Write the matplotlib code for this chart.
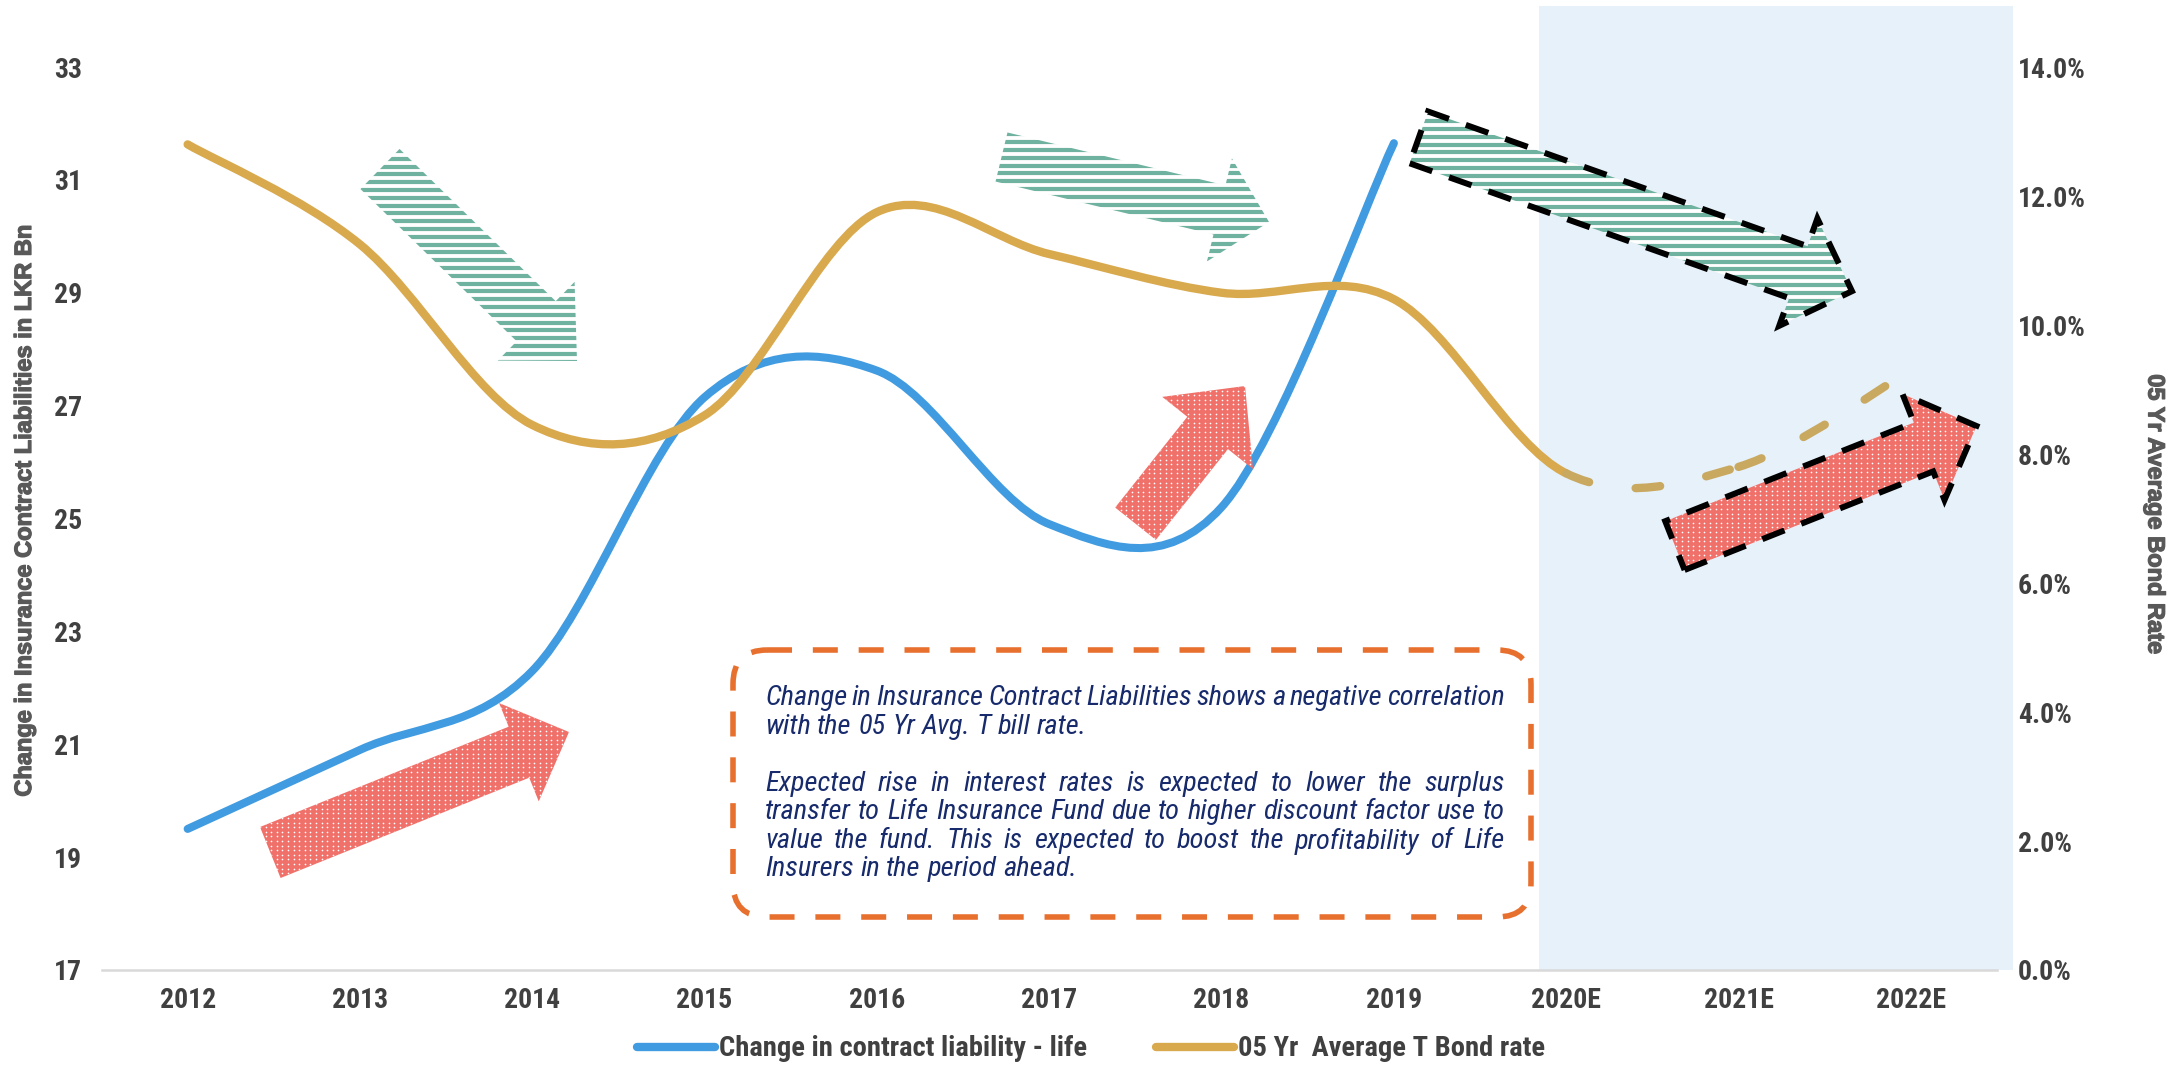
import numpy as np
import matplotlib
matplotlib.use("Agg")
import matplotlib.pyplot as plt
from matplotlib.path import Path
from matplotlib.patches import PathPatch, Polygon, Rectangle, FancyBboxPatch
from matplotlib.collections import LineCollection
from matplotlib.lines import Line2D
from matplotlib.font_manager import FontProperties
from matplotlib import transforms, font_manager, patheffects

# ---------------- data ----------------
years = ["2012", "2013", "2014", "2015", "2016", "2017", "2018", "2019",
         "2020E", "2021E", "2022E"]
contract_liability = [19.5, 20.9, 22.3, 27.15, 27.62, 24.9, 25.2, 31.65]   # LKR Bn, 2012-2019
bond_rate = [12.8, 11.25, 8.45, 8.6, 11.75, 11.1, 10.5, 10.4, 7.7, 7.8, 9.3]  # %, 2012-2022E
n_actual_rate = 9          # rate values up to 2020E drawn solid, later ones dashed
left_ticks = [17, 19, 21, 23, 25, 27, 29, 31, 33]
right_ticks = [0, 2, 4, 6, 8, 10, 12, 14]

left_title = "Change in Insurance Contract Liabilities in LKR Bn"
right_title = "05 Yr Average Bond Rate"
legend_labels = ["Change in contract liability - life", "05 Yr  Average T Bond rate"]
note_lines = [
    ("Change in Insurance Contract Liabilities shows a negative correlation", True),
    ("with the 05 Yr Avg. T bill rate.", False),
    ("Expected rise in interest rates is expected to lower the surplus", True),
    ("transfer to Life Insurance Fund due to higher discount factor use to", True),
    ("value the fund. This is expected to boost the profitability of Life", True),
    ("Insurers in the period ahead.", False),
]

# ---------------- style ----------------
BLUE = "#409BE0"
GOLD = "#D9A94E"
GOLD_DASH = "#C9A860"
SHADE = "#E6F1FA"
GREEN = "#70B2A0"
PINK = "#F0706A"
ORANGE = "#E8702F"
NAVY = "#172A6B"
TICK_C = "#404040"
TITLE_C = "#595959"

# pick a narrow sans face if one is installed
fonts = font_manager.fontManager.ttflist
names = {f.name for f in fonts}
NARROW, STRETCH, FS = "Liberation Sans", "normal", 0.88
for cand in ["Liberation Sans Narrow", "Arial Narrow", "Roboto Condensed",
             "Open Sans Condensed", "Noto Sans Condensed", "DejaVu Sans Condensed"]:
    if cand in names:
        NARROW, STRETCH, FS = cand, "normal", 1.0
        break
else:
    for fam in ["Roboto", "Noto Sans", "Open Sans"]:
        if any(f.name == fam and f.stretch in ("condensed", "semi-condensed") for f in fonts):
            NARROW, STRETCH, FS = fam, "condensed", 1.0
            break


def narrow(size, weight="normal", style="normal"):
    return FontProperties(family=[NARROW, "DejaVu Sans"], stretch=STRETCH,
                          size=size, weight=weight, style=style)


def bold_face_file(name):
    for f in fonts:
        w = f.weight if isinstance(f.weight, int) else (700 if f.weight == "bold" else 400)
        if f.name == name and f.style == "normal" and w >= 700 and f.stretch == "normal":
            return f.fname
    return None


_title_file = bold_face_file("Liberation Sans")
if _title_file:
    title_font = FontProperties(fname=_title_file, size=17)
else:
    title_font = FontProperties(family="DejaVu Sans", weight="bold", size=14.5)
title_fx = [patheffects.withStroke(linewidth=0.9, foreground=TITLE_C)]

W, H = 2179, 1065
fig = plt.figure(figsize=(W / 100, H / 100), dpi=100)
fig.patch.set_facecolor("white")

ax_left, ax_right, ax_top, ax_bot = 101.5, 1997, 67, 970
ax = fig.add_axes([ax_left / W, 1 - ax_bot / H, (ax_right - ax_left) / W, (ax_bot - ax_top) / H])
ax2 = ax.twinx()


def smooth_segments(xs, ys):
    """Cubic Bezier pieces through the points (Catmull-Rom tangents)."""
    xs = np.asarray(xs, float)
    ys = np.asarray(ys, float)
    n = len(xs)
    prv = np.r_[0, np.arange(n - 1)]
    nxt = np.r_[np.arange(1, n), n - 1]
    tx = (xs[nxt] - xs[prv]) / 2
    ty = (ys[nxt] - ys[prv]) / 2
    segs = []
    for i in range(n - 1):
        segs.append([(xs[i], ys[i]),
                     (xs[i] + tx[i] / 3, ys[i] + ty[i] / 3),
                     (xs[i + 1] - tx[i + 1] / 3, ys[i + 1] - ty[i + 1] / 3),
                     (xs[i + 1], ys[i + 1])])
    return segs


def segs_to_path(segs):
    verts = [segs[0][0]]
    codes = [Path.MOVETO]
    for s in segs:
        verts += s[1:]
        codes += [Path.CURVE4] * 3
    return Path(verts, codes)


x_pos = np.arange(len(years))

# forecast shading
shade_tr = transforms.blended_transform_factory(ax.transData, ax.transAxes)
ax.add_patch(Rectangle((7.843, 0), 10.59 - 7.843, 1.067, transform=shade_tr,
                       facecolor=SHADE, edgecolor="none", zorder=0.5, clip_on=False))

# contract liability line (left axis)
blue_segs = smooth_segments(x_pos[:len(contract_liability)], contract_liability)
ax.add_patch(PathPatch(segs_to_path(blue_segs), fill=False, edgecolor=BLUE, lw=5.8,
                       capstyle="round", joinstyle="round", zorder=2))

# bond rate line (right axis)
gold_segs = smooth_segments(x_pos[:len(bond_rate)], bond_rate)
ax2.add_patch(PathPatch(segs_to_path(gold_segs[:n_actual_rate - 1]), fill=False,
                        edgecolor=GOLD, lw=6.0, capstyle="round", joinstyle="round", zorder=2))
for seg in gold_segs[n_actual_rate - 1:]:
    ax2.add_patch(PathPatch(segs_to_path([seg]), fill=False, edgecolor=GOLD_DASH, lw=6.0,
                            linestyle=(0, (2.95, 5.65)), capstyle="round",
                            joinstyle="round", zorder=2))

# axes cosmetics
ax.set_xlim(-0.5, len(years) - 0.5)
ax.set_ylim(left_ticks[0], left_ticks[-1])
ax2.set_ylim(right_ticks[0], right_ticks[-1])
ax.set_xticks(x_pos)
ax.set_xticklabels(years)
ax.set_yticks(left_ticks)
ax.set_yticklabels([str(v) for v in left_ticks])
ax2.set_yticks(right_ticks)
ax2.set_yticklabels([f"{v:.1f}%" for v in right_ticks])
for a in (ax, ax2):
    for s in a.spines.values():
        s.set_visible(False)
ax.spines["bottom"].set_visible(True)
ax.spines["bottom"].set_color("#D9D9D9")
ax.spines["bottom"].set_linewidth(1.8)
ax.tick_params(axis="x", length=0, pad=12, labelcolor=TICK_C)
ax.tick_params(axis="y", length=0, pad=14, labelcolor=TICK_C)
ax2.tick_params(axis="y", length=0, pad=15, labelcolor=TICK_C)
tick_font = narrow(20 * FS, weight="bold")
for lab in ax.get_xticklabels() + ax.get_yticklabels() + ax2.get_yticklabels():
    lab.set_fontproperties(tick_font)

# axis titles
fig.text(24.5 / W, 1 - 510 / H, left_title, rotation=90, ha="center", va="center",
         fontproperties=title_font, color=TITLE_C, path_effects=title_fx)
fig.text(2155 / W, 1 - 514.5 / H, right_title, rotation=270, ha="center", va="center",
         fontproperties=title_font, color=TITLE_C, path_effects=title_fx)

# legend
handles = [Line2D([], [], color=BLUE, lw=6, solid_capstyle="round"),
           Line2D([], [], color=GOLD, lw=6, solid_capstyle="round")]
leg = fig.legend(handles, legend_labels, loc="center", bbox_to_anchor=(0.5007, 1 - 1049 / H),
                 ncol=2, frameon=False, handlelength=2.75, handletextpad=0.15,
                 columnspacing=2.4, prop=narrow(20.5 * FS, weight="bold"))
for t in leg.get_texts():
    t.set_color(TICK_C)

# ---------------- overlay: arrows and note box (pixel units, y down) ----------------
ov = fig.add_axes([0, 0, 1, 1], zorder=10)
ov.set_xlim(0, W)
ov.set_ylim(H, 0)
ov.axis("off")
ov.patch.set_alpha(0)


def arrow_pts(tail, tip, shaft_w, head_hw, head_len):
    tail = np.asarray(tail, float)
    tip = np.asarray(tip, float)
    d = tip - tail
    d /= np.hypot(*d)
    nrm = np.array([-d[1], d[0]])
    notch = tip - d * head_len
    hw = shaft_w / 2
    return np.array([tail + nrm * hw, notch + nrm * hw, notch + nrm * head_hw, tip,
                     notch - nrm * head_hw, notch - nrm * hw, tail - nrm * hw])


def striped_arrow(pts, border=False):
    poly = Polygon(pts, closed=True, facecolor="white", edgecolor="none", zorder=1)
    ov.add_patch(poly)
    x0, y0 = pts.min(axis=0)
    x1, y1 = pts.max(axis=0)
    ys = np.arange(y0 + 2, y1 + 8, 7.8)
    lc = LineCollection([[(x0 - 5, y), (x1 + 5, y)] for y in ys], colors=GREEN,
                        linewidths=3.0, zorder=2)
    ov.add_collection(lc)
    lc.set_clip_path(poly)
    if border:
        ov.add_patch(Polygon(pts, closed=True, fill=False, edgecolor="black", lw=4.3,
                             linestyle=(0, (4, 3)), joinstyle="miter", zorder=3))


def dotted_arrow(pts, border=False):
    poly = Polygon(pts, closed=True, facecolor=PINK, edgecolor="none", zorder=1)
    ov.add_patch(poly)
    x0, y0 = pts.min(axis=0)
    x1, y1 = pts.max(axis=0)
    gx, gy = np.meshgrid(np.arange(x0, x1 + 6, 5.6), np.arange(y0, y1 + 6, 4.6))
    sc = ov.scatter(gx.ravel(), gy.ravel(), s=1.5, c="white", linewidths=0, zorder=2)
    sc.set_clip_path(poly)
    if border:
        ov.add_patch(Polygon(pts, closed=True, fill=False, edgecolor="black", lw=4.3,
                             linestyle=(0, (4, 3)), joinstyle="miter", zorder=3))


striped_arrow(arrow_pts((380, 169), (577, 361), 56, 55, 57))
striped_arrow(arrow_pts((1001.5, 157), (1269, 222), 50.5, 53, 51))
striped_arrow(arrow_pts((1418.9, 137.4), (1852, 291.2), 55, 57, 57), border=True)
dotted_arrow(arrow_pts((270.3, 852.5), (569, 732), 55, 53, 54))
dotted_arrow(arrow_pts((1135.5, 523.7), (1245, 386), 52, 58, 60))
dotted_arrow(arrow_pts((1674.9, 545.6), (1976.5, 426), 52.5, 57, 57), border=True)

# note box
ov.add_patch(FancyBboxPatch((733, 650), 1531 - 733, 917 - 650,
                            boxstyle="round,pad=0,rounding_size=34", fill=False,
                            edgecolor=ORANGE, lw=4.0, linestyle=(0, (4.5, 3.75)), zorder=4))

renderer = fig.canvas.get_renderer()
note_font = narrow(20.5 * FS, style="italic")
probe_a = ov.text(0, 0, "x x", fontproperties=note_font)
probe_b = ov.text(0, 0, "xx", fontproperties=note_font)
space_w = probe_a.get_window_extent(renderer).width - probe_b.get_window_extent(renderer).width
probe_a.remove()
probe_b.remove()

text_x0, text_x1 = 765, 1505
line_y = [698, 727, 784, 812, 841, 869]
for (line, justify), y in zip(note_lines, line_y):
    words = line.split(" ")
    arts = [ov.text(0, y, w, ha="left", va="center", zorder=5, color=NAVY,
                    fontproperties=note_font) for w in words]
    widths = [a.get_window_extent(renderer).width for a in arts]
    if justify and len(words) > 1:
        gap = (text_x1 - text_x0 - sum(widths)) / (len(words) - 1)
    else:
        gap = space_w
    x = text_x0
    for a, w in zip(arts, widths):
        a.set_x(x)
        x += w + gap

fig.savefig("out.png", dpi=100, facecolor="white")
